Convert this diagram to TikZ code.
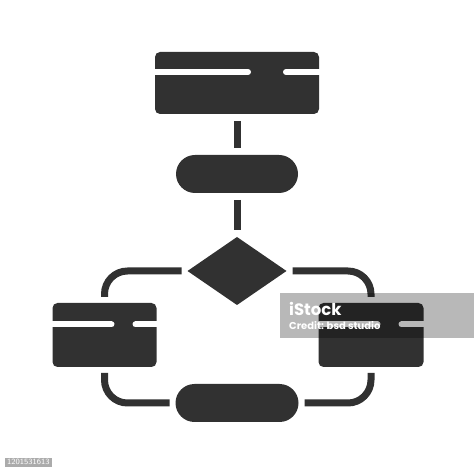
\documentclass[tikz,border=0pt]{standalone}
\usepackage{fontspec}
\usepackage{tikz}
\usetikzlibrary{positioning,shapes.geometric}
\newfontfamily\wmfont{Poppins}
\definecolor{ink}{HTML}{313131}

\begin{document}
\begin{tikzpicture}[x=1pt, y=1pt,
    base/.style = {fill=ink, inner sep=0pt, outer sep=0pt},
    card/.style = {base, rectangle, rounded corners=5pt},
    pill/.style = {base, rectangle, rounded corners=19pt, minimum width=122pt, minimum height=38pt},
    decision/.style = {base, diamond, minimum width=99pt, minimum height=68pt},
    link/.style = {draw=ink, line width=7pt, shorten <=7pt, shorten >=7pt},
    elbow/.style = {link, rounded corners=23pt, shorten <=6pt, shorten >=6pt},
    slot/.style = {draw=white, line width=6pt, line cap=round},
]
    \useasboundingbox (0,0) rectangle (474,474);

    % boxes
    \node[card, minimum width=164pt, minimum height=62pt] (topbox) at (237,391) {};
    \node[pill, below=41pt of topbox] (start) {};
    \node[decision, below=44pt of start] (dec) {};
    \node[card, minimum width=104pt, minimum height=64pt, below left=32pt and 31pt of dec.west] (leftbox) {};
    \node[card, minimum width=105pt, minimum height=64pt, below right=32pt and 32pt of dec.east] (rightbox) {};
    \node[pill, minimum width=123pt, below=79pt of dec] (stop) {};

    % slots
    \draw[slot] ([yshift=-20pt]topbox.north west) -- ++(93,0);
    \draw[slot] ([xshift=131pt, yshift=-20pt]topbox.north west) -- ([yshift=-20pt]topbox.north east);
    \draw[slot] ([yshift=-21.5pt]leftbox.north west) -- ++(59,0);
    \draw[slot] ([xshift=83pt, yshift=-21.5pt]leftbox.north west) -- ([yshift=-21.5pt]leftbox.north east);
    \draw[slot] ([yshift=-21.5pt]rightbox.north west) -- ++(59,0);
    \draw[slot] ([xshift=83pt, yshift=-21.5pt]rightbox.north west) -- ([yshift=-21.5pt]rightbox.north east);

    % flows
    \draw[link] (topbox) -- (start);
    \draw[link] (start) -- (dec);
    \draw[elbow] (dec.west) -| (leftbox.north);
    \draw[elbow] (dec.east) -| (rightbox.north);
    \draw[elbow] (leftbox.south) |- (stop.west);
    \draw[elbow] (rightbox.south) |- (stop.east);

    % watermark
    \node[fill=black, fill opacity=0.28, inner sep=0pt, minimum width=194pt, minimum height=45pt, anchor=north west] (wmbar) at (280,181) {};
    \node[anchor=base west, inner sep=0pt, text=white, font=\wmfont\bfseries\fontsize{16.5}{16.5}\selectfont] (wmlogo) at (289,158) {iStock};
    \node[anchor=base west, inner sep=0pt, text=white, font=\wmfont\bfseries\fontsize{10}{10}\selectfont] (wmcredit) at (289,144) {Credit: bsd studio};
    \node[fill=black!33, text=white, anchor=south west, inner xsep=2pt, inner ysep=0pt, minimum height=9pt, font=\sffamily\fontsize{8}{8}\selectfont] (imgid) at (5,7) {1201531613};

\end{tikzpicture}
\end{document}
